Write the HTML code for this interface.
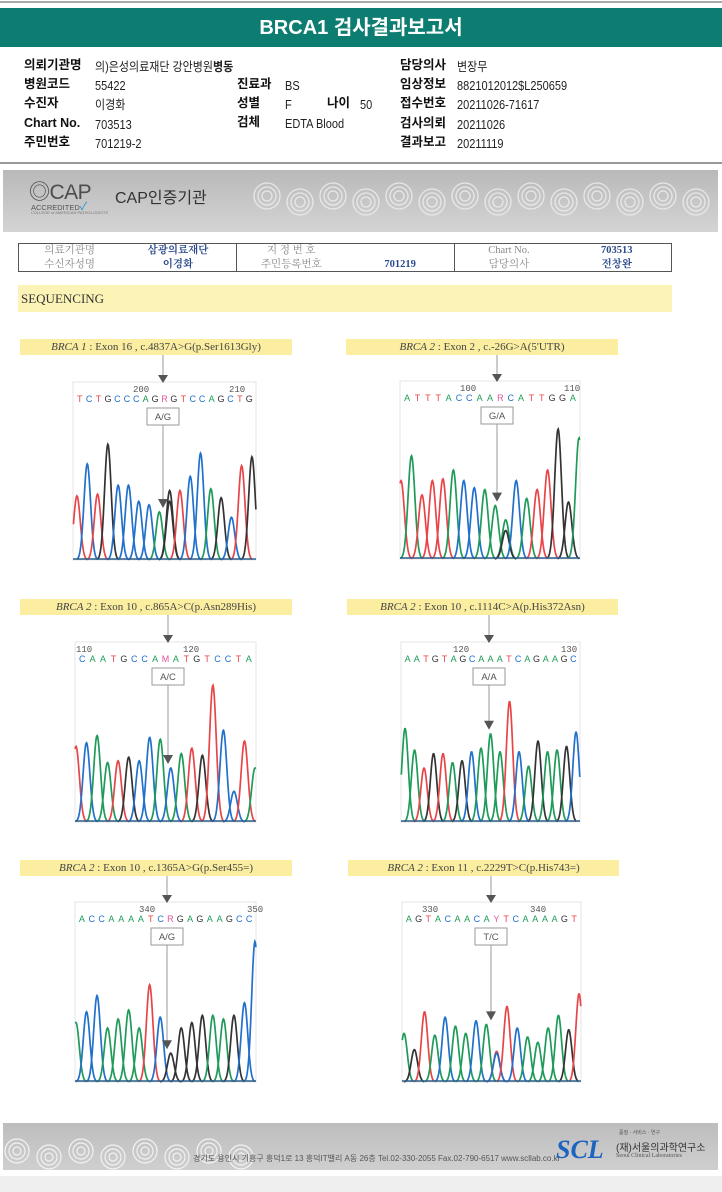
<!DOCTYPE html>
<html><head><meta charset="utf-8">
<style>
*{margin:0;padding:0;box-sizing:border-box}
body{width:722px;height:1192px;background:#fff;position:relative;overflow:hidden;font-family:"Liberation Sans","Noto Sans CJK KR",sans-serif;color:#111}
.abs{position:absolute}
.lbl{font-weight:bold;font-size:12.5px;position:absolute;white-space:nowrap;line-height:16px}
.val{font-size:12.5px;position:absolute;white-space:nowrap;transform:scaleX(0.88);transform-origin:left;color:#222;line-height:16px;margin-top:2px}
table.info{position:absolute;left:18px;top:243px;width:654px;height:28px;border-collapse:collapse;border:1px solid #555;font-family:"Liberation Serif","Noto Serif CJK SC",serif;font-size:10.5px}
table.info td{height:14px;text-align:center;color:#888;padding:0;line-height:13px}
table.info td.v{color:#2a4a8c;font-weight:bold}
.sep{border-right:1px solid #555}
.mut{position:absolute;background:#fbeea0;font-family:"Liberation Serif",serif;font-size:11px;color:#444;height:16px;line-height:16px;text-align:center;white-space:nowrap}
.mut i{font-style:italic}
</style></head><body>
<div class="abs" style="left:0;top:1px;width:722px;height:2px;background:#aaa"></div>
<div class="abs" style="left:0;top:8px;width:722px;height:39px;background:#0d7d72;color:#fff;font-weight:bold;font-size:20px;text-align:center;line-height:40px">BRCA1 검사결과보고서</div>

<div>
<span class="lbl" style="left:24px;top:57px">의뢰기관명</span><span class="val" style="left:95px;top:57px">의)은성의료재단 강안병원<b>병동</b></span>
<span class="lbl" style="left:24px;top:76px">병원코드</span><span class="val" style="left:95px;top:76px">55422</span>
<span class="lbl" style="left:24px;top:95px">수진자</span><span class="val" style="left:95px;top:95px">이경화</span>
<span class="lbl" style="left:24px;top:115px">Chart No.</span><span class="val" style="left:95px;top:115px">703513</span>
<span class="lbl" style="left:24px;top:134px">주민번호</span><span class="val" style="left:95px;top:134px">701219-2</span>
<span class="lbl" style="left:237px;top:76px">진료과</span><span class="val" style="left:285px;top:76px">BS</span>
<span class="lbl" style="left:237px;top:95px">성별</span><span class="val" style="left:285px;top:95px">F</span>
<span class="lbl" style="left:327px;top:95px">나이</span><span class="val" style="left:360px;top:95px">50</span>
<span class="lbl" style="left:237px;top:114px">검체</span><span class="val" style="left:285px;top:114px">EDTA Blood</span>
<span class="lbl" style="left:400px;top:57px">담당의사</span><span class="val" style="left:457px;top:57px">변장무</span>
<span class="lbl" style="left:400px;top:76px">임상정보</span><span class="val" style="left:457px;top:76px">8821012012$L250659</span>
<span class="lbl" style="left:400px;top:95px">접수번호</span><span class="val" style="left:457px;top:95px">20211026-71617</span>
<span class="lbl" style="left:400px;top:115px">검사의뢰</span><span class="val" style="left:457px;top:115px">20211026</span>
<span class="lbl" style="left:400px;top:134px">결과보고</span><span class="val" style="left:457px;top:134px">20211119</span>
</div>
<div class="abs" style="left:0;top:162px;width:722px;height:2px;background:#999"></div>

<div class="abs" style="left:3px;top:170px;width:715px;height:62px;background:linear-gradient(180deg,#b9b9b9,#c9c9c9 60%,#d4d4d4);overflow:hidden">
 <div class="abs" style="left:26px;top:6px;font-size:21px;color:#4d4d4d;letter-spacing:-0.5px">◎CAP</div>
 <div class="abs" style="left:28px;top:28px;font-size:7.5px;color:#555">ACCREDITED<span style="color:#2a8fd0;font-size:11px">✓</span></div>
 <div class="abs" style="left:28px;top:40px;font-size:4px;color:#777">COLLEGE of AMERICAN PATHOLOGISTS</div>
 <div class="abs" style="left:112px;top:14px;font-size:16px;color:#333">CAP인증기관</div>
 <svg class="abs" style="left:250px;top:0" width="465" height="62">
  <g fill="none" stroke="#eee" stroke-width="1.3" opacity="0.85" id="clouds"></g>
 </svg>
</div>

<table class="info">
<tr><td style="width:102px">의료기관명</td><td class="v sep" style="width:116px">삼광의료재단</td><td style="width:110px">지 정 번 호</td><td class="sep" style="width:109px"></td><td style="width:108px">Chart No.</td><td class="v" style="width:109px">703513</td></tr>
<tr><td>수신자성명</td><td class="v sep">이경화</td><td>주민등록번호</td><td class="v sep">701219</td><td>담당의사</td><td class="v">전창완</td></tr>
</table>

<div class="abs" style="left:18px;top:285px;width:654px;height:27px;background:#fcf3b6;font-family:'Liberation Serif',serif;font-size:13px;color:#333;line-height:27px;padding-left:3px">SEQUENCING</div>

<div class="mut" style="left:20px;top:339px;width:272px"><i>BRCA 1</i> : Exon 16 , c.4837A&gt;G(p.Ser1613Gly)</div>
<div class="mut" style="left:346px;top:339px;width:272px"><i>BRCA 2</i> : Exon 2 , c.-26G&gt;A(5'UTR)</div>
<div class="mut" style="left:20px;top:599px;width:272px"><i>BRCA 2</i> : Exon 10 , c.865A&gt;C(p.Asn289His)</div>
<div class="mut" style="left:347px;top:599px;width:271px"><i>BRCA 2</i> : Exon 10 , c.1114C&gt;A(p.His372Asn)</div>
<div class="mut" style="left:20px;top:860px;width:272px"><i>BRCA 2</i> : Exon 10 , c.1365A&gt;G(p.Ser455=)</div>
<div class="mut" style="left:348px;top:860px;width:271px"><i>BRCA 2</i> : Exon 11 , c.2229T&gt;C(p.His743=)</div>

<svg class="abs" id="chroma" style="left:0;top:0" width="722" height="1192"></svg>

<div class="abs" style="left:3px;top:1123px;width:715px;height:47px;background:linear-gradient(180deg,#bdbdbd,#cfcfcf);overflow:hidden">
 <svg class="abs" style="left:0;top:0" width="260" height="47"><g fill="none" stroke="#f2f2f2" stroke-width="1.2" id="fclouds"></g></svg>
 <div class="abs" style="left:190px;top:30px;font-size:8px;color:#555;white-space:nowrap">경기도 용인시 기흥구 흥덕1로 13 흥덕IT밸리 A동 26층  Tel.02-330-2055  Fax.02-790-6517  www.scllab.co.kr</div>
 <div class="abs" style="left:553px;top:12px;font-family:'Liberation Serif',serif;font-style:italic;font-weight:bold;font-size:26px;color:#1d63c0">SCL</div>
 <div class="abs" style="left:616px;top:6px;font-size:5px;color:#555">품질 · 서비스 · 연구</div>
 <div class="abs" style="left:613px;top:16px;font-size:10px;color:#333">(재)서울의과학연구소</div>
 <div class="abs" style="left:613px;top:30px;font-size:6px;color:#555;font-family:'Liberation Serif',serif">Seoul Clinical Laboratories</div>
</div>
<div class="abs" style="left:0;top:1176px;width:722px;height:16px;background:#efefef"></div>

<script>
// ---- chromatogram data (base calls & relative peak heights, fraction of plot height) ----
const p1Bases=['T','C','T','G','C','C','C','C','A','G','G','T','C','C','A','G','C','T','G'];
const p1Heights=[.36,.54,.37,.65,.42,.42,.33,.31,.27,.39,.33,.39,.47,.60,.40,.35,.24,.53,.58];
const p1Index=[0,1,2,3,4,5,6,7,8,9,9,10,11,12,13,14,15,16,17];
const p1Seq="TCTGCCCAGRGTCCAGCTG";
const p1Ticks=[200,210];
const p1Call="A/G";

const p2Bases=['T','A','T','T','T','A','C','C','A','A','A','G','C','A','T','T','G','G','A'];
const p2Heights=[.44,.58,.36,.44,.45,.50,.44,.40,.39,.30,.22,.16,.44,.34,.39,.50,.73,.32,.68];
const p2Index=[0,1,2,3,4,5,6,7,8,9,10,10,11,12,13,14,15,16,17];
const p2Seq="ATTTACCAARCATTGGA";
const p2Ticks=[100,110];
const p2Call="G/A";

const p3Bases=['T','C','A','A','T','G','C','C','A','C','A','T','G','T','C','C','T','A'];
const p3Heights=[.42,.44,.48,.33,.34,.36,.34,.47,.46,.30,.38,.41,.37,.76,.51,.17,.45,.30];
const p3Index=[0,1,2,3,4,5,6,7,8,9,10,11,12,13,14,15,16,17];
const p3Seq="CAATGCCAMATGTCCTA";
const p3Ticks=[110,120];
const p3Call="A/C";

const p4Bases=['A','A','T','G','T','A','G','C','A','A','A','T','C','A','G','A','A','G','C'];
const p4Heights=[.52,.40,.30,.38,.38,.33,.34,.39,.41,.49,.39,.67,.39,.31,.45,.39,.40,.42,.50];
const p4Index=[0,1,2,3,4,5,6,7,8,9,10,11,12,13,14,15,16,17,18];
const p4Seq="AATGTAGCAAATCAGAAGC";
const p4Ticks=[120,130];
const p4Call="A/A";

const p5Bases=['A','C','C','A','A','A','A','T','C','G','G','G','G','A','A','G','C','C'];
const p5Heights=[.33,.39,.48,.30,.35,.40,.30,.54,.36,.16,.30,.33,.37,.37,.35,.37,.44,.78];
const p5Index=[0,1,2,3,4,5,6,7,8,9,10,11,12,13,14,15,16,17];
const p5Seq="ACCAAAATCRGAGAAGCC";
const p5Ticks=[340,350];
const p5Call="A/G";

const p6Bases=['A','G','T','A','C','A','A','C','A','T','C','T','C','A','A','A','A','G','T'];
const p6Heights=[.27,.18,.39,.26,.36,.31,.27,.34,.32,.17,.16,.42,.30,.25,.22,.30,.37,.29,.49];
const p6Index=[0,1,2,3,4,5,6,7,8,9,9,10,11,12,13,14,15,16,17];
const p6Seq="AGTACAACAYTCAAAAGT";
const p6Ticks=[330,340];
const p6Call="T/C";

const COLORS={A:'#1e9b58',C:'#2070cc',G:'#333333',T:'#e84548',R:'#e0559a',M:'#e0559a',Y:'#e0559a',K:'#e0559a'};
const svg=document.getElementById('chroma');
const NS='http://www.w3.org/2000/svg';
function mk(tag,attrs){const e=document.createElementNS(NS,tag);for(const k in attrs)e.setAttribute(k,attrs[k]);svg.appendChild(e);return e;}

function drawPanel(n,g,bases,heights,idx,seq,ticks,call){
  const maxIdx=Math.max(...idx);
  const xScale=i=>g.x+g.pad+i*(g.w-2*g.pad)/maxIdx;
  const yScale=v=>g.y+g.h-v*g.h;
  const base=g.y+g.h;
  const frame=mk('rect',{x:g.x,y:g.y,width:g.w,height:g.h,fill:'#fff',stroke:'#e4e4e4','stroke-width':1});
  
  
  ticks.forEach((t,k)=>{
    const tx=mk('text',{x:g.x+g.tick[k],y:g.y+10,'font-size':9,fill:'#555','font-family':'Liberation Mono,monospace'});
    tx.textContent=t;
    
    
  });
  const step=(g.w-4)/seq.length;
  for(let i=0;i<seq.length;i++){
    const ch=seq[i];
    const t=mk('text',{x:g.x+2+step*(i+0.5),y:g.y+20,'font-size':9,'text-anchor':'middle',fill:COLORS[ch]||'#333','font-family':'Liberation Sans,sans-serif'});
    t.textContent=ch;
    
    
  }
  const sig=g.sig;
  bases.forEach((b,k)=>{
    const cx=xScale(idx[k]);const hv=heights[k];
    let d='';
    for(let dx=-3.2*sig;dx<=3.2*sig;dx+=0.5){
      const xx=cx+dx;if(xx<g.x||xx>g.x+g.w)continue;
      const yy=yScale(hv*Math.exp(-dx*dx/(2*sig*sig)));
      d+=(d?'L':'M')+xx.toFixed(1)+' '+yy.toFixed(1);
    }
    const p=mk('path',{d:d,fill:'none',stroke:COLORS[b],'stroke-width':1.7});
    
    
  });
  const bl=mk('line',{x1:g.x,y1:base-1,x2:g.x+g.w,y2:base-1,stroke:'#2b5d8a','stroke-width':1.5});
  
  
  const ax=g.ax;
  const a1=mk('line',{x1:ax,y1:g.labelY,x2:ax,y2:g.y-6,stroke:'#999','stroke-width':1});
  
  
  const h1=mk('path',{d:`M${ax-5} ${g.y-7}L${ax+5} ${g.y-7}L${ax} ${g.y+1}Z`,fill:'#555'});
  
  
  let vy=base;
  bases.forEach((b,k)=>{const cx=xScale(idx[k]);if(Math.abs(cx-ax)<g.w/maxIdx/2+1){vy=Math.min(vy,yScale(heights[k]));}});
  const tip=vy-4;
  const l2=mk('line',{x1:ax,y1:g.y+43,x2:ax,y2:tip-8,stroke:'#999','stroke-width':1});
  
  
  const h2=mk('path',{d:`M${ax-5} ${tip-9}L${ax+5} ${tip-9}L${ax} ${tip}Z`,fill:'#555'});
  
  
  const cb=mk('rect',{x:ax-16,y:g.y+26,width:32,height:17,fill:'#fff',stroke:'#999','stroke-width':1});
  
  
  const ct=mk('text',{x:ax,y:g.y+38,'font-size':9.5,'text-anchor':'middle',fill:'#555'});
  ct.textContent=call;
  
  
}
drawPanel(1,{x:73,y:382,w:183,h:178,pad:4,sig:3.3,ax:163,labelY:355,tick:[60,156]},p1Bases,p1Heights,p1Index,p1Seq,p1Ticks,p1Call);
drawPanel(2,{x:400,y:381,w:180,h:178,pad:1,sig:3.4,ax:497,labelY:355,tick:[60,164]},p2Bases,p2Heights,p2Index,p2Seq,p2Ticks,p2Call);
drawPanel(3,{x:75,y:642,w:181,h:180,pad:1,sig:3.4,ax:168,labelY:615,tick:[1,108]},p3Bases,p3Heights,p3Index,p3Seq,p3Ticks,p3Call);
drawPanel(4,{x:401,y:642,w:179,h:180,pad:4,sig:3.2,ax:489,labelY:615,tick:[52,160]},p4Bases,p4Heights,p4Index,p4Seq,p4Ticks,p4Call);
drawPanel(5,{x:75,y:902,w:181,h:180,pad:1,sig:3.3,ax:167,labelY:876,tick:[64,172]},p5Bases,p5Heights,p5Index,p5Seq,p5Ticks,p5Call);
drawPanel(6,{x:402,y:902,w:179,h:180,pad:2,sig:3.2,ax:491,labelY:876,tick:[20,128]},p6Bases,p6Heights,p6Index,p6Seq,p6Ticks,p6Call);

function swirls(gid,n,x0,dx,y,r){const g=document.getElementById(gid);for(let i=0;i<n;i++){for(let k=0;k<3;k++){const c=document.createElementNS(NS,'circle');c.setAttribute('cx',x0+i*dx);c.setAttribute('cy',y+(i%2)*6);c.setAttribute('r',r-k*4);g.appendChild(c);}}}
swirls('clouds',14,14,33,26,13);
swirls('fclouds',8,14,32,28,12);
</script>
</body></html>
